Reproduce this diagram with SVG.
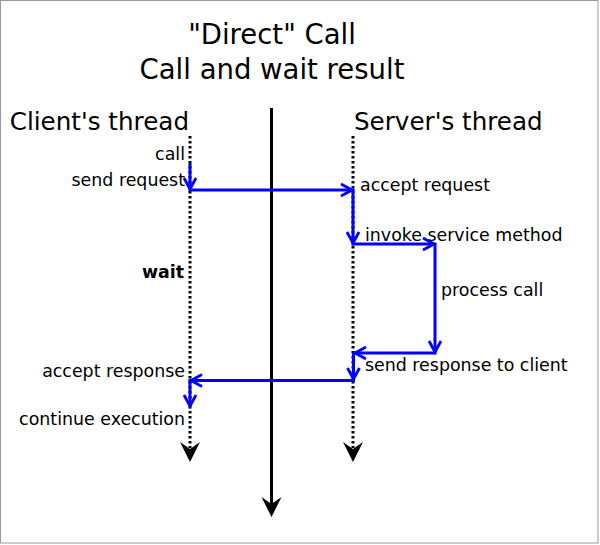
<svg xmlns="http://www.w3.org/2000/svg" width="600" height="545" viewBox="0 0 600 545">
<style>
text{font-family:"DejaVu Sans","Liberation Sans",sans-serif;fill:#000}
.title{font-size:27.5px}
.big{font-size:24.6px}
.lbl{font-size:17.4px}
.thread{stroke:#000;stroke-width:3;stroke-dasharray:2.5 2.5;fill:none}
.flow{stroke:#0000ff;stroke-width:3;fill:none;marker-end:url(#vee)}
</style>
<defs>
<marker id="vee" markerUnits="userSpaceOnUse" markerWidth="20" markerHeight="20" refX="12" refY="10" orient="auto">
<path d="M1,4 L12,10 L1,16" fill="none" stroke="#0000ff" stroke-width="2.8"/>
</marker>
</defs>
<rect x="0.5" y="0.5" width="597.5" height="542.5" fill="#fff" stroke="#999" stroke-width="1"/>
<g id="title">
<text class="title" x="272" y="44" text-anchor="middle">"Direct" Call</text>
<text class="title" x="272" y="79" text-anchor="middle">Call and wait result</text>
</g>
<g id="client">
<text class="big" x="189" y="130" text-anchor="end">Client's thread</text>
<line class="thread" x1="190" y1="136" x2="190" y2="448"/>
<path d="M190,462 L180,442 L190,449 L200,442 Z" fill="#000"/>
<text class="lbl" x="185" y="160" text-anchor="end">call</text>
<text class="lbl" x="185" y="186" text-anchor="end">send request</text>
<text class="lbl" x="184" y="278" text-anchor="end" font-weight="bold">wait</text>
<text class="lbl" x="185" y="377" text-anchor="end">accept response</text>
<text class="lbl" x="185" y="425" text-anchor="end">continue execution</text>
</g>
<g id="server">
<text class="big" x="354" y="130">Server's thread</text>
<line class="thread" x1="353" y1="136" x2="353" y2="448"/>
<path d="M353,462 L343,442 L353,449 L363,442 Z" fill="#000"/>
<text class="lbl" x="360" y="191">accept request</text>
<text class="lbl" x="365" y="241">invoke service method</text>
<text class="lbl" x="441" y="296">process call</text>
<text class="lbl" x="365" y="371">send response to client</text>
</g>
<g id="timeline">
<line x1="271.5" y1="108" x2="271.5" y2="504" stroke="#000" stroke-width="3"/>
<path d="M271.5,517 L261.5,497 L271.5,504 L281.5,497 Z" fill="#000"/>
</g>
<g id="connectors">
<line class="flow" x1="190" y1="163" x2="190" y2="189"/>
<line class="flow" x1="188.5" y1="190" x2="352" y2="190"/>
<line class="flow" x1="353" y1="188.5" x2="353" y2="243"/>
<line class="flow" x1="351.5" y1="244" x2="434" y2="244"/>
<line class="flow" x1="435" y1="242.5" x2="435" y2="352"/>
<line class="flow" x1="436.5" y1="353" x2="355" y2="353"/>
<line class="flow" x1="353.5" y1="351.5" x2="353.5" y2="379"/>
<line class="flow" x1="355" y1="380.5" x2="191" y2="380.5"/>
<line class="flow" x1="190" y1="379" x2="190" y2="406"/>
</g>
</svg>
